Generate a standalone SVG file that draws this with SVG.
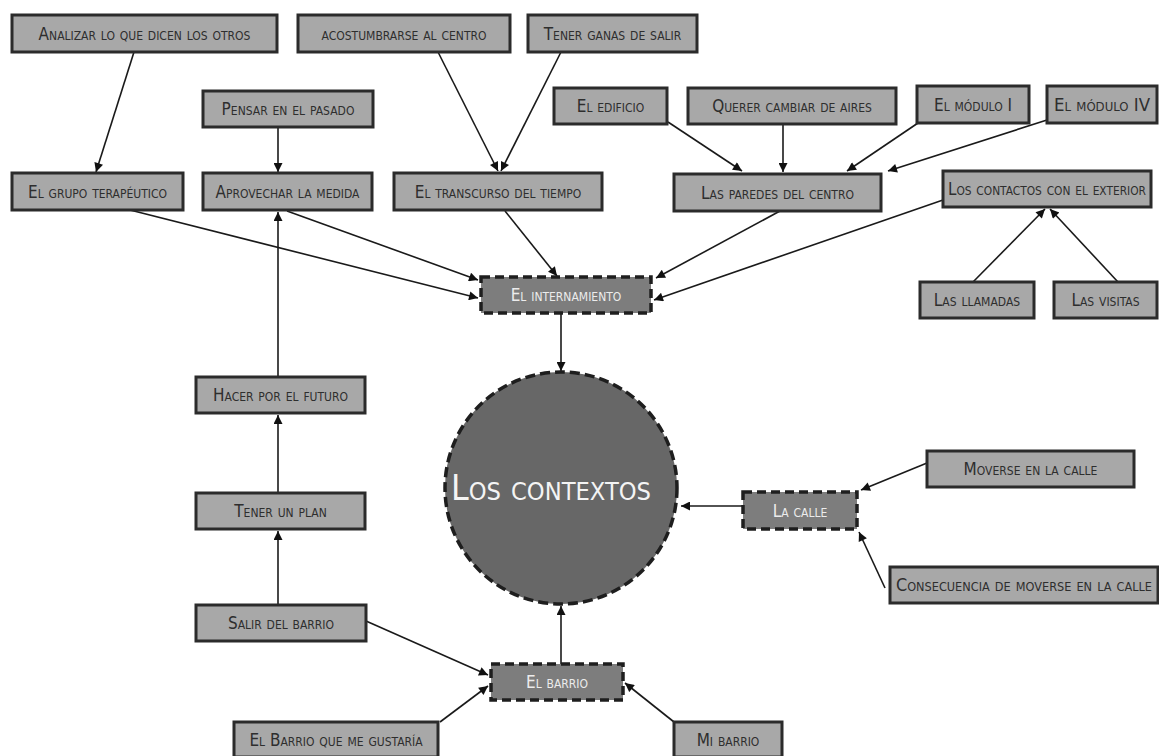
<svg xmlns="http://www.w3.org/2000/svg" width="1159" height="756" viewBox="0 0 1159 756">
  <style>
    .box { fill: #a8a8a8; stroke: #2b2b2b; stroke-width: 3; }
    .hub { fill: #7d7d7d; stroke: #1e1e1e; stroke-width: 3.5; stroke-dasharray: 9 5; }
    .lbl { font-family: "Liberation Sans Narrow", "DejaVu Sans Condensed", "Liberation Sans", sans-serif; font-variant: small-caps; font-size: 17px; fill: #2e2e2e; text-anchor: middle; dominant-baseline: central; }
    .hublbl { fill: #ececec; }
    .big { font-family: "Liberation Sans Narrow", "DejaVu Sans Condensed", "Liberation Sans", sans-serif; font-variant: small-caps; font-size: 35px; fill: #f4f4f4; text-anchor: middle; dominant-baseline: central; }
    .edge { stroke: #1a1a1a; stroke-width: 1.6; fill: none; marker-end: url(#arrow); }
  </style>
  <defs>
    <marker id="arrow" viewBox="0 0 10 10" refX="10" refY="5" markerWidth="11" markerHeight="9" markerUnits="userSpaceOnUse" orient="auto">
      <path d="M0,0 L10,5 L0,10 z" fill="#111"/>
    </marker>
  </defs>
  <rect width="1159" height="756" fill="#fff"/>

  <g id="connectors">
    <line class="edge" x1="134" y1="52" x2="96" y2="172"/>
    <line class="edge" x1="278" y1="127" x2="278" y2="172"/>
    <line class="edge" x1="438" y1="52" x2="498" y2="171"/>
    <line class="edge" x1="561" y1="52" x2="501" y2="171"/>
    <line class="edge" x1="668" y1="122" x2="742" y2="171"/>
    <line class="edge" x1="783" y1="124" x2="783" y2="172"/>
    <line class="edge" x1="918" y1="123" x2="847" y2="171"/>
    <line class="edge" x1="1047" y1="120" x2="888" y2="171"/>
    <line class="edge" x1="973" y1="282" x2="1045" y2="209"/>
    <line class="edge" x1="1118" y1="282" x2="1050" y2="209"/>
    <line class="edge" x1="130" y1="210" x2="478" y2="298"/>
    <line class="edge" x1="287" y1="211" x2="478" y2="280"/>
    <line class="edge" x1="505" y1="211" x2="557" y2="276"/>
    <line class="edge" x1="780" y1="211" x2="656" y2="278"/>
    <line class="edge" x1="943" y1="200" x2="654" y2="300"/>
    <line class="edge" x1="561" y1="313" x2="561" y2="371"/>
    <line class="edge" x1="278" y1="377" x2="278" y2="212"/>
    <line class="edge" x1="278" y1="493" x2="278" y2="415"/>
    <line class="edge" x1="278" y1="605" x2="278" y2="531"/>
    <line class="edge" x1="366" y1="621" x2="488" y2="675"/>
    <line class="edge" x1="440" y1="722" x2="488" y2="686"/>
    <line class="edge" x1="674" y1="722" x2="625" y2="683"/>
    <line class="edge" x1="561" y1="664" x2="561" y2="606"/>
    <line class="edge" x1="927" y1="463" x2="861" y2="490"/>
    <line class="edge" x1="885" y1="588" x2="859" y2="532"/>
    <line class="edge" x1="743" y1="506" x2="681" y2="506"/>
  </g>

  <g id="n-analizar"><rect class="box" x="12" y="15" width="265" height="37"/><text class="lbl" x="144.5" y="33.5">Analizar lo que dicen los otros</text></g>
  <g id="n-acostumbrarse"><rect class="box" x="298" y="15" width="212" height="37"/><text class="lbl" x="404" y="33.5">acostumbrarse al centro</text></g>
  <g id="n-ganas"><rect class="box" x="528" y="15" width="169" height="37"/><text class="lbl" x="612.5" y="33.5">Tener ganas de salir</text></g>
  <g id="n-pensar"><rect class="box" x="203" y="91" width="170" height="36"/><text class="lbl" x="288" y="109">Pensar en el pasado</text></g>
  <g id="n-grupo"><rect class="box" x="12" y="173" width="171" height="37"/><text class="lbl" x="97.5" y="191.5">El  grupo  terapéutico</text></g>
  <g id="n-aprovechar"><rect class="box" x="203" y="173" width="169" height="37"/><text class="lbl" x="287.5" y="191.5">Aprovechar la medida</text></g>
  <g id="n-transcurso"><rect class="box" x="394" y="173" width="208" height="37"/><text class="lbl" x="498" y="191.5">El transcurso del tiempo</text></g>
  <g id="n-edificio"><rect class="box" x="554" y="88" width="113" height="36"/><text class="lbl" x="610.5" y="106">El edificio</text></g>
  <g id="n-aires"><rect class="box" x="688" y="88" width="208" height="36"/><text class="lbl" x="792" y="106">Querer cambiar de aires</text></g>
  <g id="n-modulo1"><rect class="box" x="917" y="86" width="112" height="37"/><text class="lbl" x="973" y="104.5">El módulo I</text></g>
  <g id="n-modulo4"><rect class="box" x="1047" y="86" width="110" height="37"/><text class="lbl" x="1102" y="104.5" textLength="96" lengthAdjust="spacingAndGlyphs">El módulo IV</text></g>
  <g id="n-paredes"><rect class="box" x="674" y="174" width="207" height="37"/><text class="lbl" x="777.5" y="192.5">Las paredes del centro</text></g>
  <g id="n-contactos"><rect class="box" x="943" y="171" width="208" height="36"/><text class="lbl" x="1047" y="189" textLength="198" lengthAdjust="spacingAndGlyphs">Los contactos con el exterior</text></g>
  <g id="n-llamadas"><rect class="box" x="920" y="282" width="114" height="36"/><text class="lbl" x="977" y="300">Las llamadas</text></g>
  <g id="n-visitas"><rect class="box" x="1054" y="282" width="103" height="36"/><text class="lbl" x="1105.5" y="300">Las visitas</text></g>

  <g id="n-internamiento"><rect class="hub" x="481" y="277" width="170" height="36"/><text class="lbl hublbl" x="566" y="295">El  internamiento</text></g>

  <g id="n-contextos"><circle cx="561" cy="488" r="116" fill="#676767" stroke="#1e1e1e" stroke-width="3.5" stroke-dasharray="10 5"/><text class="big" x="551" y="488" textLength="200" lengthAdjust="spacingAndGlyphs">Los contextos</text></g>

  <g id="n-futuro"><rect class="box" x="196" y="377" width="169" height="36"/><text class="lbl" x="280.5" y="395">Hacer por el futuro</text></g>
  <g id="n-plan"><rect class="box" x="196" y="493" width="169" height="36"/><text class="lbl" x="280.5" y="511">Tener un plan</text></g>
  <g id="n-salir"><rect class="box" x="196" y="605" width="170" height="36"/><text class="lbl" x="281" y="623">Salir del barrio</text></g>

  <g id="n-barrio"><rect class="hub" x="491" y="664" width="132" height="36"/><text class="lbl hublbl" x="557" y="682">El  barrio</text></g>
  <g id="n-gustaria"><rect class="box" x="234" y="722" width="204" height="35"/><text class="lbl" x="336" y="740">El Barrio que me gustaría</text></g>
  <g id="n-mibarrio"><rect class="box" x="674" y="722" width="108" height="35"/><text class="lbl" x="728" y="740">Mi barrio</text></g>

  <g id="n-calle"><rect class="hub" x="743" y="492" width="114" height="37"/><text class="lbl hublbl" x="800" y="510.5">La calle</text></g>
  <g id="n-moverse"><rect class="box" x="927" y="451" width="207" height="36"/><text class="lbl" x="1030.5" y="469">Moverse en la calle</text></g>
  <g id="n-consecuencia"><rect class="box" x="890" y="567" width="268" height="36"/><text class="lbl" x="1024" y="585" textLength="256" lengthAdjust="spacingAndGlyphs">Consecuencia de moverse en la calle</text></g>
</svg>
